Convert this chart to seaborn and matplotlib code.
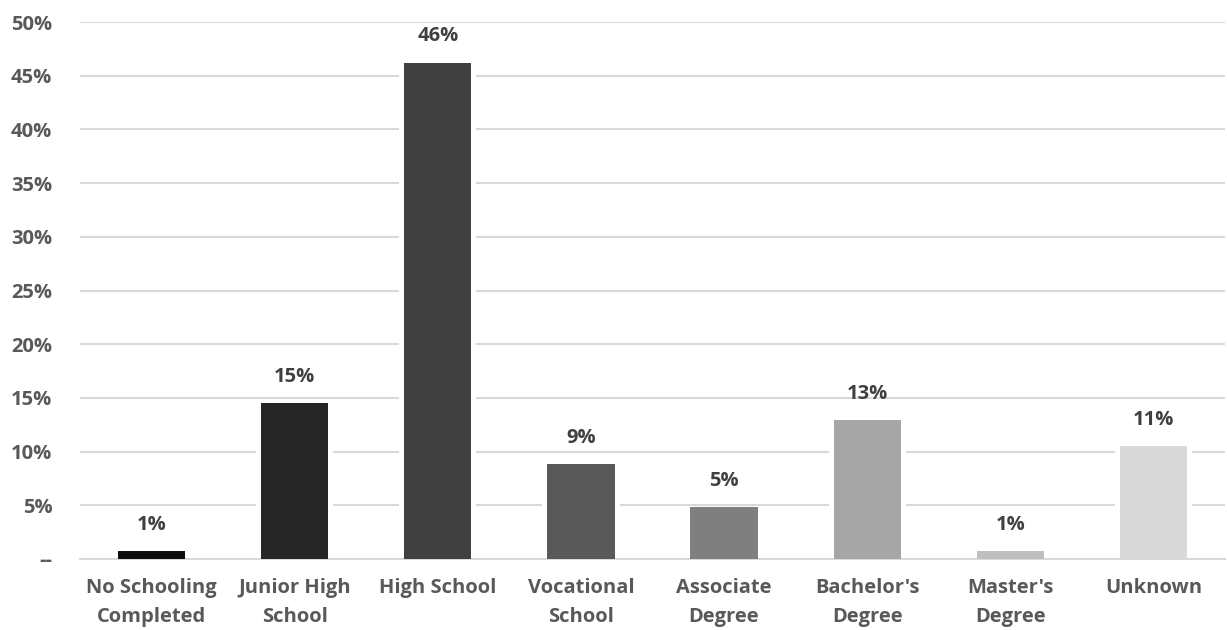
import math
import numpy as np
import pandas as pd
import matplotlib
matplotlib.use("Agg")
import matplotlib.pyplot as plt
import seaborn as sns

# Educational attainment shares (percent)
categories = [
    "No Schooling\nCompleted",
    "Junior High\nSchool",
    "High School",
    "Vocational\nSchool",
    "Associate\nDegree",
    "Bachelor's\nDegree",
    "Master's\nDegree",
    "Unknown",
]
shares = [0.7, 14.5, 46.2, 8.8, 4.8, 12.9, 0.7, 10.5]
bar_colors = ["#0d0d0d", "#262626", "#404040", "#595959",
              "#7f7f7f", "#a6a6a6", "#bfbfbf", "#d9d9d9"]
y_ticks = [0, 5, 10, 15, 20, 25, 30, 35, 40, 45, 50]
y_tick_labels = ["--", "5%", "10%", "15%", "20%", "25%",
                 "30%", "35%", "40%", "45%", "50%"]

sns.set_theme(style="white")
plt.rcParams["font.family"] = ["Open Sans", "DejaVu Sans"]

TEXT = "#595959"
GRID = "#d9d9d9"
FS = 14.5

fig = plt.figure(figsize=(12.27, 6.3), dpi=100)
ax = fig.add_axes([80 / 1227, 71 / 630, 1145 / 1227, 537 / 630])

df = pd.DataFrame({"category": categories, "share": shares})

# white halo behind each bar so gridlines stop short of the bars
sns.barplot(data=df, x="category", y="share", color="white", width=0.54,
            errorbar=None, linewidth=0, ax=ax, zorder=2)
sns.barplot(data=df, x="category", y="share", hue="category",
            palette=bar_colors, width=0.47, errorbar=None, legend=False,
            linewidth=0, saturation=1, ax=ax, zorder=3)

for i, v in enumerate(shares):
    ax.annotate(f"{math.floor(v + 0.5)}%", (i, v), xytext=(0, 19),
                textcoords="offset points", ha="center", va="center",
                fontsize=FS, fontweight="bold", color="#404040", zorder=4)

ax.set_ylim(0, 50)
ax.set_xlim(-0.5, len(categories) - 0.5)
ax.set_yticks(y_ticks)
ax.set_yticklabels(y_tick_labels)
ax.yaxis.grid(True, color=GRID, linewidth=1.5)
ax.set_axisbelow(True)

ax.set_xlabel("")
ax.set_ylabel("")
for side in ("top", "right", "left"):
    ax.spines[side].set_visible(False)
ax.spines["bottom"].set_color(GRID)
ax.spines["bottom"].set_linewidth(1.5)

ax.set_xticks(np.arange(-0.5, len(categories), 1), minor=True)
ax.tick_params(axis="x", which="major", length=0, pad=14,
               labelsize=FS, labelcolor=TEXT)
ax.tick_params(axis="x", which="minor", length=6, width=1.2,
               color=GRID, direction="out")
ax.tick_params(axis="y", length=0, pad=20, labelsize=FS, labelcolor=TEXT)
for lbl in ax.get_xticklabels() + ax.get_yticklabels():
    lbl.set_fontweight("bold")
    lbl.set_linespacing(1.55)

fig.savefig("out.png", dpi=100, facecolor="white")
